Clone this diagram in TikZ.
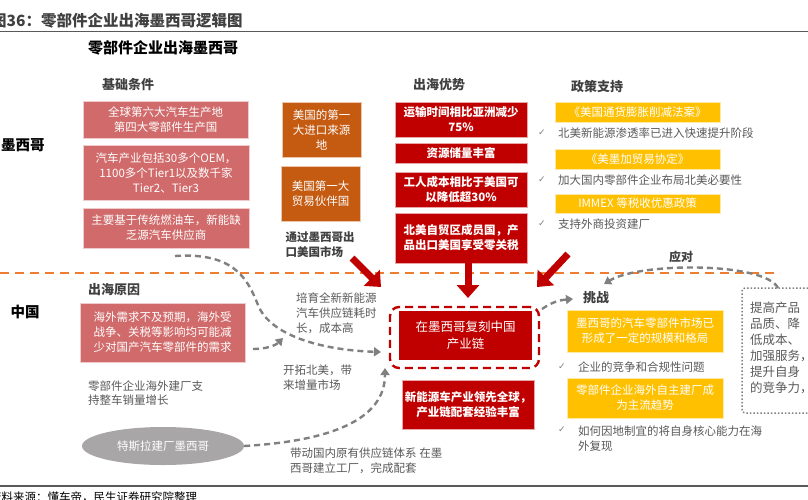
\documentclass[tikz,border=0pt]{standalone}
\usepackage{fontspec}
\setmainfont{Noto Sans CJK SC}
\newfontfamily\symfont{DejaVu Sans}
\usetikzlibrary{arrows.meta,shapes.geometric}
\definecolor{baseRed}{RGB}{209,106,106}
\definecolor{srcOrange}{RGB}{197,90,17}
\definecolor{advRed}{RGB}{192,0,0}
\definecolor{polYellow}{RGB}{255,192,0}
\definecolor{lineOrange}{RGB}{237,125,49}
\definecolor{txtGray}{RGB}{89,89,89}
\definecolor{headGray}{RGB}{64,64,64}
\definecolor{flowGray}{RGB}{128,128,128}
\definecolor{ellGray}{RGB}{168,166,166}
\newcommand\bfnt{\fontsize{11.5}{15}\selectfont}
\tikzset{
  box/.style={align=center, inner sep=0pt, font=\bfnt, text=white, line width=.6pt},
  basebox/.style={box, fill=baseRed, draw=baseRed!35!white},
  srcbox/.style={box, fill=srcOrange, draw=srcOrange!35!white},
  advbox/.style={box, fill=advRed, draw=advRed!35!white, font=\bfnt\bfseries},
  polbox/.style={box, fill=polYellow, draw=polYellow!35!white},
  head/.style={font=\fontsize{13}{15}\selectfont\bfseries, text=headGray, inner sep=0pt},
  side/.style={font=\fontsize{14.5}{16}\selectfont\bfseries, text=black, inner sep=0pt},
  note/.style={font=\fontsize{11.5}{14.8}\selectfont, text=txtGray, align=left, inner sep=0pt},
  tick/.style={font=\fontsize{9}{10}\selectfont\symfont, text=flowGray, inner sep=0pt},
  bigarrow/.style={advRed, line width=7pt, -{Triangle[width=22pt,length=13pt]}},
  flow/.style={draw=flowGray, line width=2.4pt, dash pattern=on 6pt off 4pt, -{Triangle[width=9pt,length=7pt]}}
}
\begin{document}
\begin{tikzpicture}[x=1pt,y=-1pt]
  \useasboundingbox (0,0) rectangle (808,499);
  \node[anchor=west, inner sep=0pt, font=\fontsize{15.5}{17}\selectfont\bfseries, text=headGray] (title) at (-9,20.5) {图36：零部件企业出海墨西哥逻辑图};
  \draw[txtGray, line width=1.5pt] (0,31.5) -- (808,31.5);
  \node[inner sep=0pt, font=\fontsize{15}{17}\selectfont\bfseries, text=black] (subtitle) at (163,48) {零部件企业出海墨西哥};

  \node[side, anchor=west] (mx) at (1,145) {墨西哥};
  \node[side] (cn) at (25,312) {中国};
  \draw[lineOrange, line width=2.6pt, dash pattern=on 9pt off 6pt] (0,273) -- (780,273);

  \node[head] (condhead) at (128,85) {基础条件};
  \node[basebox, minimum width=165pt, minimum height=37pt] (cond1) at (165.5,119.5) {全球第六大汽车生产地\\第四大零部件生产国};
  \node[basebox, minimum width=166pt, minimum height=55pt] (cond2) at (166,172.5) {汽车产业包括30多个OEM，\\1100多个Tier1以及数千家\\Tier2、Tier3};
  \node[basebox, minimum width=166pt, minimum height=40pt] (cond3) at (166,228) {主要基于传统燃油车，新能缺\\乏源汽车供应商};

  \node[srcbox, minimum width=79pt, minimum height=55pt] (us1) at (321.5,129.5) {美国的第一\\大进口来源\\地};
  \node[srcbox, minimum width=79pt, minimum height=55pt] (us2) at (320.5,193.5) {美国第一大\\贸易伙伴国};
  \node[note, font=\fontsize{11.5}{14.8}\selectfont\bfseries, text=headGray] (viaus) at (320,244.5) {通过墨西哥出\\口美国市场};

  \node[head] (advhead) at (439,85) {出海优势};
  \node[advbox, minimum width=132pt, minimum height=35pt] (adv1) at (461,119.5) {运输时间相比亚洲减少\\75\%};
  \node[advbox, minimum width=132pt, minimum height=20pt] (adv2) at (461,153) {资源储量丰富};
  \node[advbox, minimum width=132pt, minimum height=35pt] (adv3) at (461,189.5) {工人成本相比于美国可\\以降低超30\%};
  \node[advbox, minimum width=132pt, minimum height=50pt] (adv4) at (461,238) {北美自贸区成员国，产\\品出口美国享受零关税};

  \node[head] (polhead) at (597,87) {政策支持};
  \node[polbox, minimum width=165pt, minimum height=20pt] (pol1) at (637.5,112) {《美国通货膨胀削减法案》};
  \node[tick] (tk1) at (542,133) {✓};
  \node[note, anchor=west] (poltxt1) at (558,133) {北美新能源渗透率已进入快速提升阶段};
  \node[polbox, minimum width=165pt, minimum height=20pt] (pol2) at (637.5,159) {《美墨加贸易协定》};
  \node[tick] (tk2) at (542,180) {✓};
  \node[note, anchor=west] (poltxt2) at (558,180) {加大国内零部件企业布局北美必要性};
  \node[polbox, minimum width=165pt, minimum height=19pt] (pol3) at (637.5,203.5) {IMMEX 等税收优惠政策};
  \node[tick] (tk3) at (542,224) {✓};
  \node[note, anchor=west] (poltxt3) at (558,224) {支持外商投资建厂};

  \node[head] (whyhead) at (114,290) {出海原因};
  \node[basebox, minimum width=165pt, minimum height=59pt] (why) at (162.5,332.5) {海外需求不及预期，海外受\\战争、关税等影响均可能减\\少对国产汽车零部件的需求};
  \node[note, anchor=west] (whytxt) at (88,393) {零部件企业海外建厂支\\持整车销量增长};
  \node[ellipse, fill=ellGray, minimum width=162pt, minimum height=38pt, inner sep=0pt, text=white, font=\bfnt] (tesla) at (163,446) {特斯拉建厂墨西哥};

  \node[draw=advRed, line width=2.4pt, dash pattern=on 8pt off 5pt, rounded corners=9pt, minimum width=149pt, minimum height=61pt] (hub) at (464.5,337.5) {};
  \node[box, fill=advRed, minimum width=133pt, minimum height=49pt, font=\fontsize{12.5}{17}\selectfont] (copy) at (465.5,335.5) {在墨西哥复刻中国\\产业链};
  \node[advbox, minimum width=132pt, minimum height=49pt] (nev) at (468,404.5) {新能源车产业领先全球，\\产业链配套经验丰富};

  \node[note, anchor=west] (slow) at (296,313) {培育全新新能源\\汽车供应链耗时\\长，成本高};
  \node[note, anchor=west] (market) at (283,377.5) {开拓北美，带\\来增量市场};
  \node[note, anchor=west] (chain) at (290,461) {带动国内原有供应链体系 在墨\\西哥建立工厂，完成配套};

  \node[head] (chhead) at (596,298) {挑战};
  \node[polbox, minimum width=156pt, minimum height=42pt] (ch1) at (645,331) {墨西哥的汽车零部件市场已\\形成了一定的规模和格局};
  \node[tick] (tk4) at (562,367) {✓};
  \node[note, anchor=west] (chtxt1) at (578,367) {企业的竞争和合规性问题};
  \node[polbox, minimum width=156pt, minimum height=40pt] (ch2) at (645,398) {零部件企业海外自主建厂成\\为主流趋势};
  \node[tick] (tk5) at (562,430) {✓};
  \node[note, anchor=west] (chtxt2) at (578,439) {如何因地制宜的将自身核心能力在海\\外复现};

  \node[draw=flowGray, line width=1.5pt, dash pattern=on 1.5pt off 2pt, rounded corners=3pt, minimum width=90pt, minimum height=125pt] (resp) at (787,350.5) {};
  \node[note, anchor=north west, font=\fontsize{12.5}{16}\selectfont] (resptxt) at (750,302) {提高产品\\品质、降\\低成本、\\加强服务，\\提升自身\\的竞争力，};
  \node[head, font=\fontsize{12}{14}\selectfont\bfseries] (cope) at (681,257) {应对};

  \coordinate (a1) at (175,256);
  \coordinate (a2) at (381,352);
  \coordinate (b1) at (253,349);
  \coordinate (b2) at (283,338);
  \coordinate (c1) at (385,368);
  \coordinate (d1) at (542,309);
  \coordinate (d2) at (573,299);
  \coordinate (e1) at (778,288);
  \coordinate (e2) at (604,284);
  \draw[flow] (a1) .. controls (235,252) and (248,280) .. (258,305) .. controls (270,335) and (320,350) .. (a2);
  \draw[flow] (b1) .. controls (265,349) and (275,346) .. (b2);
  \draw[flow] (tesla.east) .. controls (330,441) and (385,420) .. (c1);
  \draw[flow] (d1) .. controls (552,302) and (560,300) .. (d2);
  \draw[flow] (e1) .. controls (765,262) and (640,262) .. (e2);

  \coordinate (ra1) at (352,258);
  \coordinate (ra2) at (381,287);
  \coordinate (rb1) at (468,263);
  \coordinate (rb2) at (468,298);
  \coordinate (rc1) at (568,254);
  \coordinate (rc2) at (537,287);
  \draw[bigarrow] (ra1) -- (ra2);
  \draw[bigarrow] (rb1) -- (rb2);
  \draw[bigarrow] (rc1) -- (rc2);

  \draw[txtGray, line width=1.5pt] (0,486) -- (808,486);
  \node[anchor=west, inner sep=0pt, font=\fontsize{11.5}{13}\selectfont, text=black] (source) at (-10,497) {资料来源：懂车帝，民生证券研究院整理};
\end{tikzpicture}
\end{document}
